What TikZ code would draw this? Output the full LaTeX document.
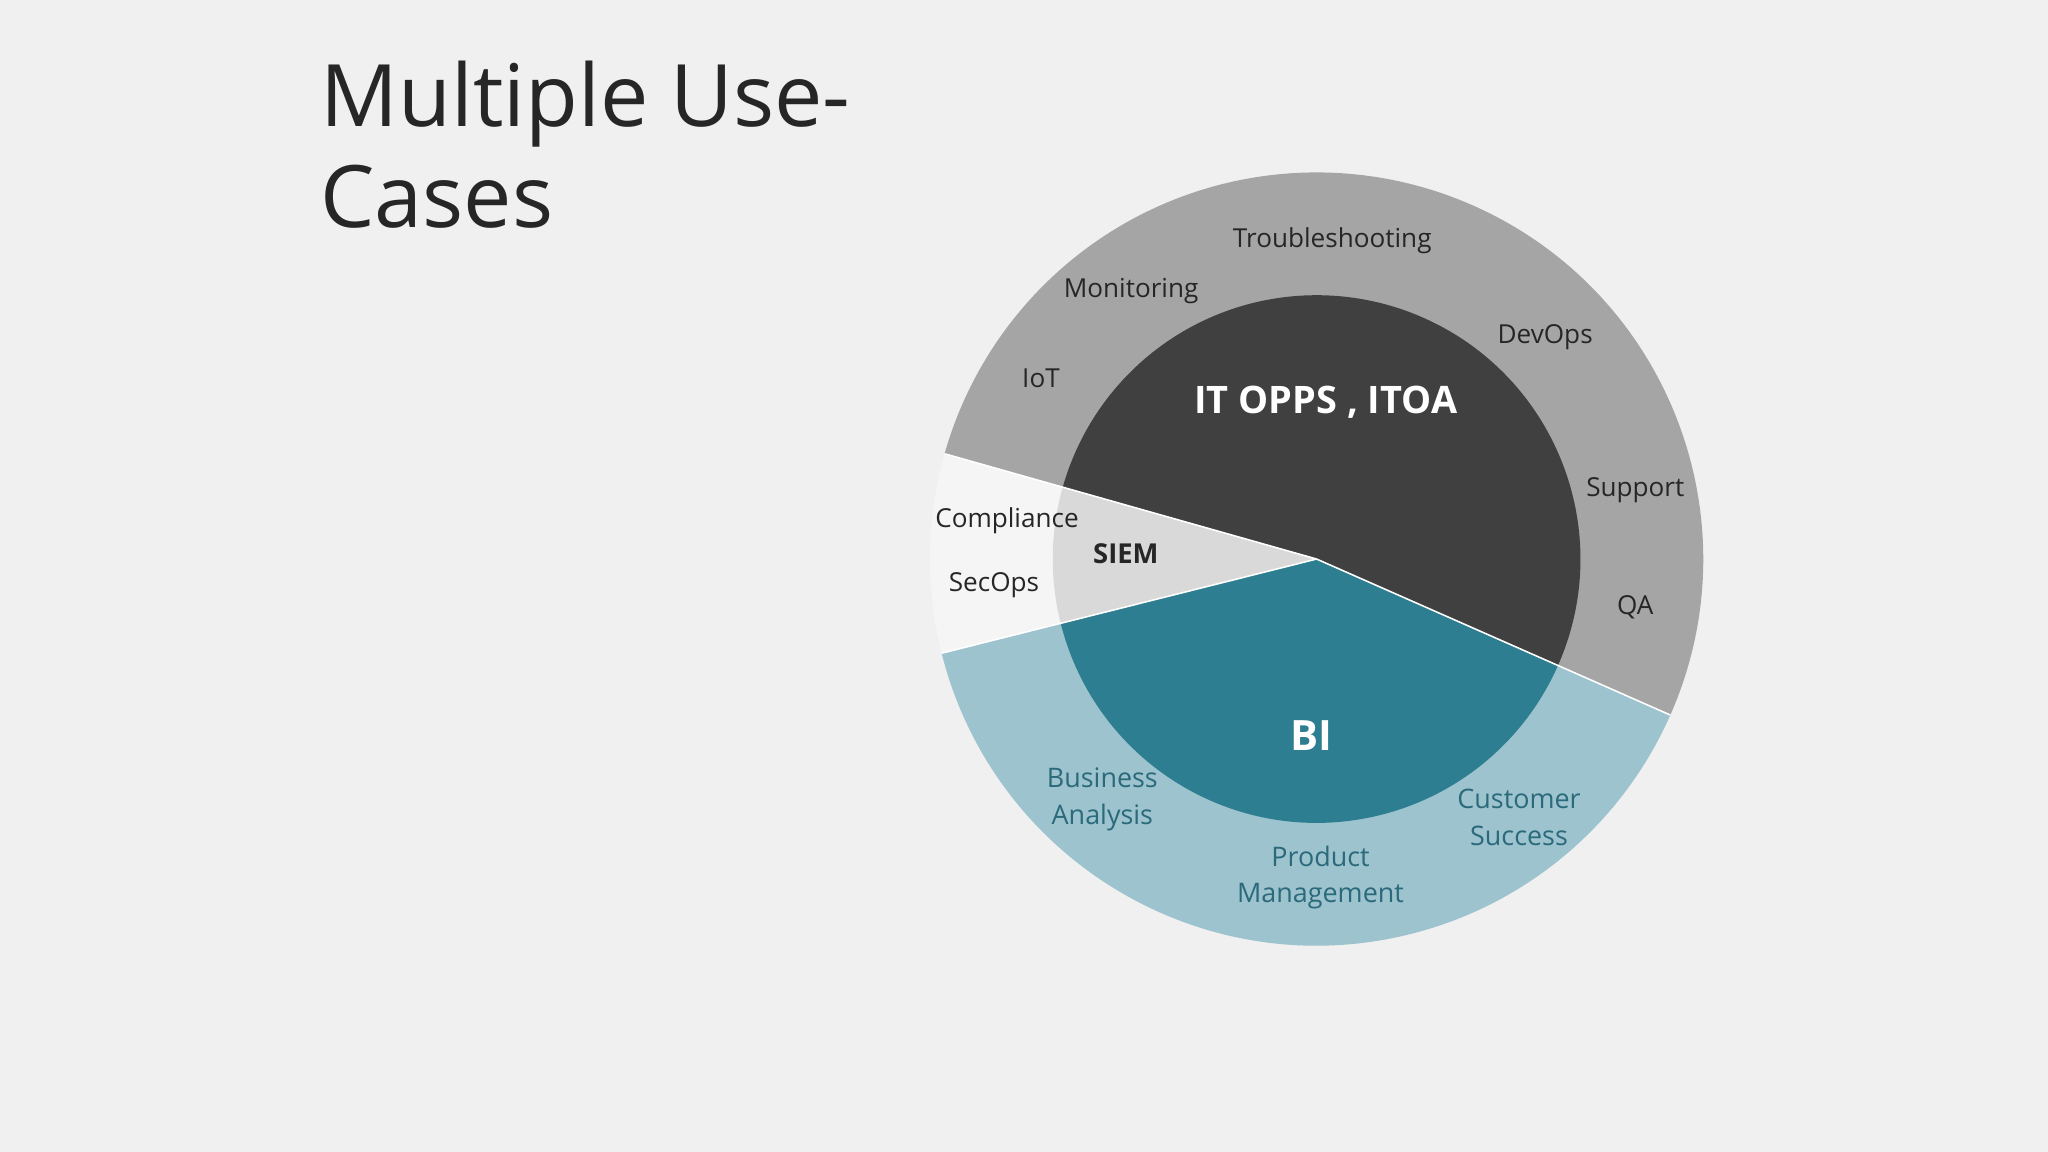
\documentclass[tikz,border=0pt]{standalone}
\usepackage{fontspec}
\setmainfont{Open Sans}
\definecolor{bg}{HTML}{F0F0F0}
\definecolor{ringgray}{HTML}{A6A5A6}
\definecolor{ringwhite}{HTML}{F5F5F5}
\definecolor{ringteal}{HTML}{9DC3CF}
\definecolor{coredark}{HTML}{404040}
\definecolor{corelight}{HTML}{D9D9D9}
\definecolor{coreteal}{HTML}{2E7E91}
\definecolor{tealtext}{HTML}{2B6A7A}
\definecolor{titlec}{HTML}{262626}
\tikzset{
  lbl/.style={font=\fontsize{10}{13}\selectfont, text=black!85, align=center},
  tlbl/.style={font=\fontsize{10.3}{14}\selectfont, text=tealtext, align=center},
  seg/.style={draw=white, line width=0.6pt}
}
\begin{document}
\begin{tikzpicture}[x=0.5pt,y=-0.5pt]
\fill[bg] (0,0) rectangle (1568,882);
\useasboundingbox (0,0) rectangle (1568,882);
\coordinate (c) at (1008,428);
\def\R{296}\def\r{202}
\fill[ringgray] (c) -- ++(23.8:\R) arc[start angle=23.8,end angle=-164.2,radius=\R] -- cycle;
\fill[ringwhite] (c) -- ++(-164.2:\R) arc[start angle=-164.2,end angle=-194.1,radius=\R] -- cycle;
\fill[ringteal] (c) -- ++(-194.1:\R) arc[start angle=-194.1,end angle=-336.2,radius=\R] -- cycle;
\fill[coredark] (c) -- ++(23.8:\r) arc[start angle=23.8,end angle=-164.2,radius=\r] -- cycle;
\fill[corelight] (c) -- ++(-164.2:\r) arc[start angle=-164.2,end angle=-194.1,radius=\r] -- cycle;
\fill[coreteal] (c) -- ++(-194.1:\r) arc[start angle=-194.1,end angle=-336.2,radius=\r] -- cycle;
\draw[seg] (c) -- ++(23.8:\R) (c) -- ++(-164.2:\R) (c) -- ++(-194.1:\R);
\node[anchor=north west, align=left, font=\fontsize{33}{39}\selectfont, text=titlec, inner sep=0] (title) at (245,46) {Multiple Use-\\Cases};
\node[lbl] (trb) at (1020,184) {Troubleshooting};
\node[lbl] (mon) at (866,223) {Monitoring};
\node[lbl] (dev) at (1183,258) {DevOps};
\node[lbl] (iot) at (797,290) {IoT};
\node[lbl] (sup) at (1252,375) {Support};
\node[lbl] (qa) at (1252,465) {QA};
\node[lbl] (cmp) at (771,399) {Compliance};
\node[lbl] (sec) at (761,448) {SecOps};
\node[font=\bfseries\fontsize{14.5}{18}\selectfont, text=white] (it) at (1015,308) {IT OPPS , ITOA};
\node[font=\bfseries\fontsize{10.5}{14}\selectfont, text=black!85] (siem) at (862,424) {SIEM};
\node[font=\bfseries\fontsize{16}{20}\selectfont, text=white] (bi) at (1004,563) {BI};
\node[tlbl] (ba) at (844,612) {Business\\Analysis};
\node[tlbl] (cs) at (1163,626) {Customer\\Success};
\node[tlbl] (pm) at (1011,672) {Product\\Management};
\end{tikzpicture}
\end{document}
